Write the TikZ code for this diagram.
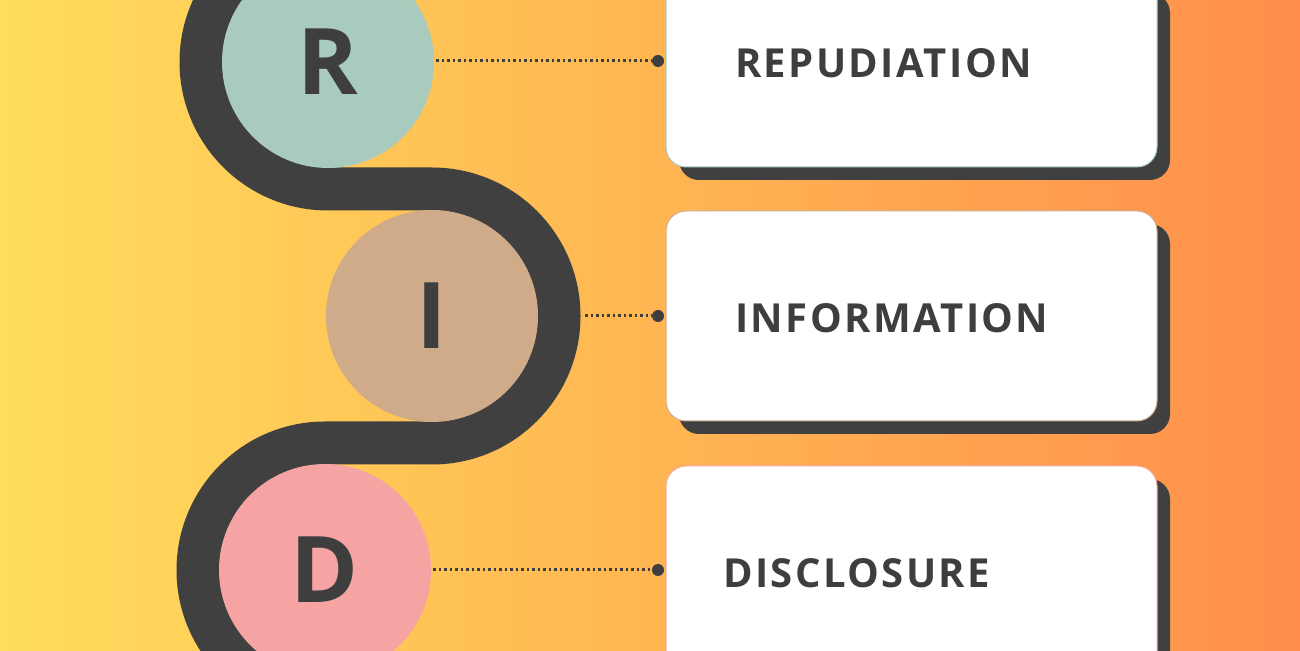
\documentclass[tikz,border=0pt]{standalone}
\usepackage{fontspec}
\setmainfont{Open Sans}
\newfontfamily\labelfont[LetterSpace=6]{Open Sans Bold}
\newfontfamily\letterfont{Open Sans Bold}
\definecolor{bgL}{HTML}{FFDD5D}
\definecolor{bgM}{HTML}{FFB652}
\definecolor{bgR}{HTML}{FF8E4C}
\definecolor{track}{HTML}{404040}
\definecolor{ink}{HTML}{3E3E3E}
\definecolor{cR}{HTML}{A9CBBE}
\definecolor{cI}{HTML}{CFAB8A}
\definecolor{cD}{HTML}{F6A3A3}
\tikzset{
  bubble/.style={circle, minimum size=212pt, inner sep=0pt, text=ink, font=\letterfont\fontsize{92}{92}\selectfont},
  card/.style={draw=#1, line width=1pt, fill=white, rounded corners=20pt},
  cardshadow/.style={fill=track, rounded corners=20pt},
  caption/.style={anchor=base west, text=ink, inner sep=0pt, font=\labelfont\fontsize{40}{40}\selectfont},
  link/.style={draw=ink, line width=3pt, dash pattern=on 2.8pt off 2.7pt},
  linkdot/.style={circle, fill=ink, minimum size=12pt, inner sep=0pt},
}
\begin{document}
\begin{tikzpicture}[x=1pt,y=1pt]
\useasboundingbox (0,0) rectangle (1300,650);
\clip (0,0) rectangle (1300,650);
\shade[left color=bgL, right color=bgR, middle color=bgM] (0,0) rectangle (1300,650);
% track
\draw[track, line width=43pt] (328,715) arc[start angle=90, end angle=270, radius=127]
  -- (432,461) arc[start angle=90, end angle=-90, radius=127]
  -- (325,207) arc[start angle=90, end angle=270, radius=127];
% circles
\node[bubble, fill=cR] (r) at (328,588) {R};
\node[bubble, fill=cI] (i) at (432,334) {I};
\node[bubble, fill=cD] (d) at (325,80) {D};
% cards
\fill[cardshadow] (679,470) rectangle (1170,657);
\path[card=cR] (666,483) rectangle (1157,690);
\fill[cardshadow] (679,216) rectangle (1170,426);
\path[card=cI] (666,229) rectangle (1157,439);
\fill[cardshadow] (679,-60) rectangle (1170,171);
\path[card=cD] (666,-47) rectangle (1157,184);
% captions
\node[caption] (tr) at (735,572) {REPUDIATION};
\node[caption] (ti) at (735,317) {INFORMATION};
\node[caption] (td) at (723,62) {DISCLOSURE};
% connectors
\node[linkdot] (pr) at (658,589) {};
\node[linkdot] (pi) at (658,334) {};
\node[linkdot] (pd) at (658,80) {};
\coordinate (ir) at (436,589);
\coordinate (ii) at (585,334);
\coordinate (id) at (433,80);
\draw[link] (ir) -- (pr);
\draw[link] (ii) -- (pi);
\draw[link] (id) -- (pd);
\end{tikzpicture}
\end{document}
